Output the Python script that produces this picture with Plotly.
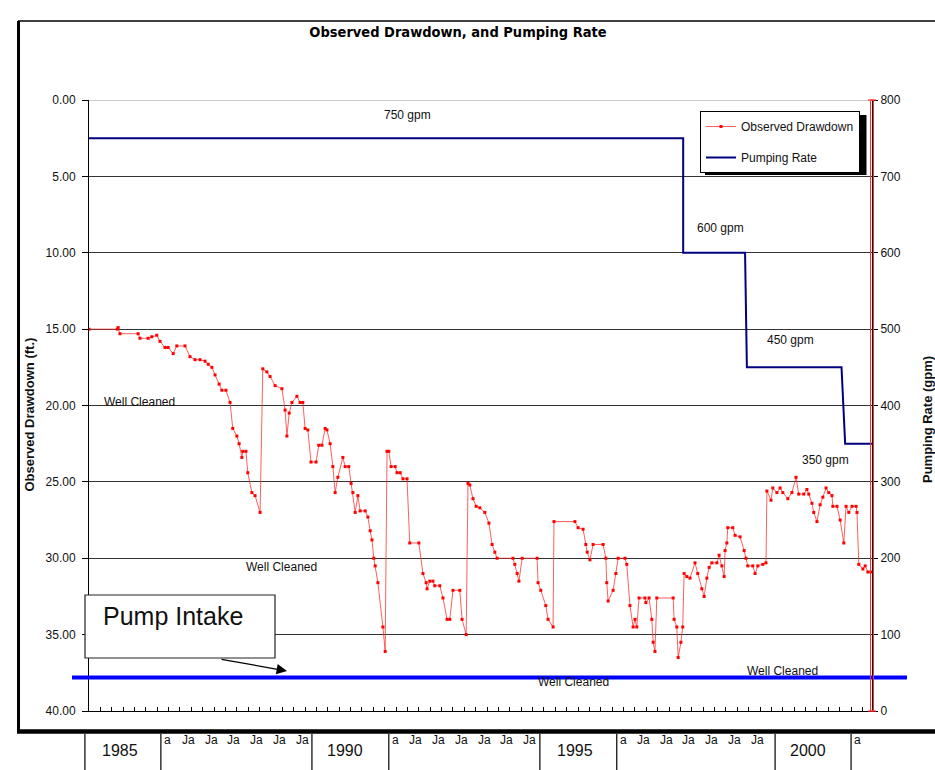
import plotly.graph_objects as go

TITLE = "Observed Drawdown, and Pumping Rate"

# ---- data (decimal years) ----
drawdown_year = [
    1985.00, 1985.62, 1985.64, 1985.68, 1986.08, 1986.12, 1986.30, 1986.38, 1986.49, 1986.56,
    1986.67, 1986.74, 1986.85, 1986.93, 1987.11, 1987.22, 1987.33, 1987.44, 1987.55, 1987.62,
    1987.70, 1987.77, 1987.86, 1987.92, 1988.01, 1988.10, 1988.16, 1988.25, 1988.30, 1988.36,
    1988.38, 1988.45, 1988.49, 1988.58, 1988.65, 1988.76, 1988.82, 1988.91, 1988.98, 1989.09,
    1989.24, 1989.31, 1989.35, 1989.40, 1989.46, 1989.57, 1989.64, 1989.70, 1989.75, 1989.81,
    1989.88, 1989.99, 1990.05, 1990.12, 1990.19, 1990.23, 1990.30, 1990.36, 1990.41, 1990.47,
    1990.58, 1990.63, 1990.71, 1990.76, 1990.80, 1990.85, 1990.91, 1990.96, 1991.07, 1991.13,
    1991.18, 1991.22, 1991.26, 1991.29, 1991.35, 1991.46, 1991.51, 1991.55, 1991.59, 1991.64,
    1991.73, 1991.77, 1991.84, 1991.90, 1991.99, 1992.05, 1992.25, 1992.34, 1992.41, 1992.43,
    1992.49, 1992.56, 1992.60, 1992.71, 1992.78, 1992.87, 1992.93, 1993.00, 1993.15, 1993.20,
    1993.29, 1993.33, 1993.37, 1993.44, 1993.51, 1993.59, 1993.70, 1993.79, 1993.86, 1993.92,
    1993.97, 1994.32, 1994.36, 1994.41, 1994.45, 1994.52, 1994.85, 1994.87, 1994.93, 1995.04,
    1995.09, 1995.20, 1995.22, 1995.68, 1995.75, 1995.86, 1995.92, 1995.95, 1996.01, 1996.08,
    1996.30, 1996.36, 1996.38, 1996.41, 1996.52, 1996.58, 1996.63, 1996.78, 1996.82, 1996.89,
    1996.96, 1997.00, 1997.04, 1997.09, 1997.22, 1997.24, 1997.31, 1997.37, 1997.40, 1997.44,
    1997.48, 1997.84, 1997.86, 1997.92, 1997.95, 1998.01, 1998.05, 1998.08, 1998.14, 1998.21,
    1998.32, 1998.38, 1998.47, 1998.52, 1998.58, 1998.63, 1998.69, 1998.80, 1998.85, 1998.91,
    1998.96, 1998.98, 1999.02, 1999.04, 1999.15, 1999.20, 1999.31, 1999.40, 1999.44, 1999.48,
    1999.59, 1999.64, 1999.70, 1999.81, 1999.88, 1999.90, 1999.99, 2000.03, 2000.12, 2000.19,
    2000.25, 2000.36, 2000.45, 2000.54, 2000.60, 2000.71, 2000.78, 2000.82, 2000.89, 2000.93,
    2001.00, 2001.07, 2001.13, 2001.20, 2001.26, 2001.33, 2001.35, 2001.44, 2001.51, 2001.59,
    2001.64, 2001.70, 2001.77, 2001.86, 2001.88, 2001.92, 2002.01, 2002.06, 2002.12, 2002.19,
]
drawdown_ft = [
    15.0, 15.0, 14.9, 15.3, 15.3, 15.6, 15.6, 15.5, 15.4, 15.8,
    16.2, 16.2, 16.6, 16.1, 16.1, 16.8, 17.0, 17.0, 17.1, 17.3,
    17.5, 18.0, 18.6, 19.0, 19.0, 19.8, 21.5, 22.0, 22.5, 23.4,
    23.0, 23.0, 24.4, 25.7, 25.9, 27.0, 17.6, 17.8, 18.1, 18.7,
    18.9, 20.3, 22.0, 20.5, 19.8, 19.4, 19.8, 19.8, 21.5, 21.6,
    23.7, 23.7, 22.6, 22.6, 21.5, 21.6, 22.5, 24.0, 25.7, 24.7,
    23.4, 24.0, 24.0, 25.1, 25.7, 27.0, 25.9, 26.9, 26.9, 27.3,
    28.2, 28.8, 30.0, 30.5, 31.6, 34.5, 36.1, 23.0, 23.0, 24.0,
    24.0, 24.4, 24.4, 24.8, 24.8, 29.0, 29.0, 31.0, 31.6, 32.0,
    31.5, 31.5, 31.8, 31.8, 32.6, 34.0, 34.0, 32.1, 32.1, 34.0,
    35.0, 25.1, 25.2, 26.1, 26.6, 26.7, 27.0, 27.7, 29.1, 29.6,
    30.0, 30.0, 30.4, 31.0, 31.5, 30.0, 30.0, 31.6, 32.1, 33.1,
    34.0, 34.5, 27.6, 27.6, 28.0, 28.1, 29.1, 29.6, 30.1, 29.1,
    29.1, 30.0, 31.6, 32.8, 32.1, 31.0, 30.0, 30.0, 30.4, 33.1,
    34.5, 34.0, 34.5, 32.6, 32.6, 32.9, 32.6, 34.0, 35.5, 36.1,
    32.6, 32.6, 34.0, 34.5, 36.5, 35.5, 34.5, 31.0, 31.2, 31.3,
    30.3, 31.0, 32.0, 32.5, 31.3, 30.6, 30.3, 30.3, 29.8, 30.5,
    31.2, 29.5, 29.0, 28.0, 28.0, 28.5, 28.6, 29.5, 30.0, 30.5,
    30.5, 31.0, 30.5, 30.4, 30.3, 25.6, 26.2, 25.4, 25.7, 25.4,
    25.7, 26.1, 25.7, 24.7, 25.8, 25.8, 25.5, 25.8, 26.4, 27.0,
    27.6, 26.5, 26.0, 25.4, 25.7, 25.9, 26.6, 26.6, 27.5, 29.0,
    26.6, 27.0, 26.6, 26.6, 27.0, 30.4, 30.7, 30.5, 30.9, 30.9,
]

pump_year = [1985.00, 1998.06, 1998.06, 1999.42, 1999.46, 2001.54, 2001.62, 2002.21]
pump_gpm = [750, 750, 600, 600, 450, 450, 350, 350]

PUMP_INTAKE_FT = 37.8

rate_labels = ["750 gpm", "600 gpm", "450 gpm", "350 gpm"]
rate_label_year = [1992.01, 1998.89, 2000.41, 2001.18]
rate_label_ft = [0.98, 8.38, 15.71, 23.57]

cleaned_label_year = [1986.12, 1989.24, 1995.64, 2000.25]
cleaned_label_ft = [19.77, 30.57, 38.10, 37.38]

drawdown_ticks = [0, 5, 10, 15, 20, 25, 30, 35, 40]
rate_ticks = [0, 100, 200, 300, 400, 500, 600, 700, 800]

year_labels = ["1985", "1990", "1995", "2000"]
year_label_pos = [1985.68, 1990.63, 1995.68, 2000.80]
year_box_edges = [(1984.91, 1986.58), (1989.90, 1991.59), (1994.91, 1996.60), (2000.08, 2001.75)]
ja_years = [1987.0, 1987.5, 1988.0, 1988.5, 1989.0, 1989.5,
            1992.0, 1992.5, 1993.0, 1993.5, 1994.0, 1994.5,
            1997.0, 1997.5, 1998.0, 1998.5, 1999.0, 1999.5]

# ---- layout helpers ----
W, H = 935, 770
ML, MR, MT, MB = 89, 63, 100, 59
X0, X1 = 1985.0, 2002.21
PW, PH = W - ML - MR, H - MT - MB


def xp_year(year):
    return (year - X0) / (X1 - X0)


def xp_px(px):
    return (px - ML) / PW


def yp_px(py):
    return (H - MB - py) / PH


FONT = "Liberation Sans, Arial, sans-serif"

fig = go.Figure()

fig.add_trace(go.Scatter(
    x=drawdown_year, y=drawdown_ft, name="Observed Drawdown",
    mode="lines+markers",
    line=dict(color="rgba(255,40,40,0.75)", width=1),
    marker=dict(symbol="square", size=3, color="#ff0000"),
    legendgroup="a",
))
fig.add_trace(go.Scatter(
    x=pump_year, y=pump_gpm, name="Pumping Rate", yaxis="y2",
    mode="lines",
    line=dict(color="#000080", width=2),
    legendgroup="b",
))


def txt(x, y, text, size=12, xref="paper", yref="paper", xanchor="center", **kw):
    d = dict(x=x, y=y, xref=xref, yref=yref, text=text, showarrow=False,
             xanchor=xanchor, yanchor="middle",
             font=dict(size=size, color="#111", family=FONT))
    d.update(kw)
    return d


annotations = []
for t, x, y in zip(rate_labels, rate_label_year, rate_label_ft):
    annotations.append(txt(x, y, t, xref="x", yref="y"))
for x, y in zip(cleaned_label_year, cleaned_label_ft):
    annotations.append(txt(x, y, "Well Cleaned", xref="x", yref="y"))

# axis titles
annotations.append(txt(xp_px(28.5), yp_px(415), "<b>Observed Drawdown (ft.)</b>", size=13,
                       textangle=-90))
annotations.append(txt(xp_px(927), yp_px(420), "<b>Pumping Rate (gpm)</b>", size=13,
                       textangle=-90))

# pump intake call-out
annotations.append(txt(xp_px(101), yp_px(616), "Pump Intake", size=25, xanchor="left"))
annotations.append(dict(x=xp_px(287), y=yp_px(671), xref="paper", yref="paper",
                        ax=-67, ay=-12, text="",
                        showarrow=True, arrowhead=2, arrowsize=1.6, arrowwidth=1.3,
                        arrowcolor="#000"))

# bottom broken-axis labels
for t, yr in zip(year_labels, year_label_pos):
    annotations.append(txt(xp_year(yr), yp_px(750), t, size=16))
for yr in ja_years:
    annotations.append(txt(xp_year(yr), yp_px(740.5), "Ja", xanchor="left"))
for a, b in year_box_edges:
    annotations.append(txt(xp_year(b) + 0.0015, yp_px(740.5), "a", xanchor="left"))

shapes = []
# outer frame
shapes.append(dict(type="line", xref="paper", yref="paper", x0=xp_px(18), x1=xp_px(945),
                   y0=yp_px(21), y1=yp_px(21), line=dict(color="#000", width=1.5)))
shapes.append(dict(type="line", xref="paper", yref="paper", x0=xp_px(18.5), x1=xp_px(18.5),
                   y0=yp_px(21), y1=yp_px(731), line=dict(color="#000", width=3)))
shapes.append(dict(type="line", xref="paper", yref="paper", x0=xp_px(17), x1=xp_px(945),
                   y0=yp_px(731.5), y1=yp_px(731.5), line=dict(color="#000", width=4.5)))
# lighter top grid line at 0 ft
shapes.append(dict(type="line", xref="paper", yref="y", x0=0, x1=1, y0=0, y1=0,
                   line=dict(color="#999", width=1.2), layer="above"))
# year boxes
for a, b in year_box_edges:
    for e in (a, b):
        shapes.append(dict(type="line", xref="paper", yref="paper", x0=xp_year(e), x1=xp_year(e),
                           y0=yp_px(734), y1=yp_px(775), line=dict(color="#000", width=1.2)))
# pump intake line
shapes.append(dict(type="line", xref="paper", yref="y", x0=xp_px(72), x1=xp_px(907),
                   y0=PUMP_INTAKE_FT, y1=PUMP_INTAKE_FT, line=dict(color="#0000ff", width=4),
                   layer="above"))
# pump intake box
shapes.append(dict(type="rect", xref="paper", yref="paper", x0=xp_px(85), x1=xp_px(275),
                   y0=yp_px(658), y1=yp_px(595), line=dict(color="#222", width=1.2),
                   fillcolor="white", layer="above"))
# red band at right axis
shapes.append(dict(type="rect", xref="paper", yref="paper", x0=xp_px(870.5), x1=xp_px(873.5),
                   y0=0, y1=1, line=dict(color="#ff3030", width=1), layer="above"))
for yy in (0, 1):
    shapes.append(dict(type="line", xref="paper", yref="paper", x0=xp_px(868), x1=xp_px(876),
                       y0=yy, y1=yy, line=dict(color="#ff3030", width=1.2), layer="above"))
# legend shadow
shapes.append(dict(type="rect", xref="paper", yref="paper", x0=xp_px(705), x1=xp_px(866.5),
                   y0=yp_px(175), y1=yp_px(115), line=dict(width=0), fillcolor="#000",
                   layer="above"))

fig.update_layout(
    width=W, height=H,
    margin=dict(l=ML, r=MR, t=MT, b=MB, pad=0),
    paper_bgcolor="white", plot_bgcolor="white",
    font=dict(family=FONT, size=12, color="#111"),
    title=dict(text="<b>" + TITLE + "</b>", x=458 / W, xref="container", xanchor="center",
               y=1 - 32 / H, yref="container", yanchor="middle",
               font=dict(family="DejaVu Sans Condensed, sans-serif",
                         size=14.5, color="#000")),
    xaxis=dict(range=[X0, X1], showgrid=False, zeroline=False, showline=True,
               linecolor="#000", linewidth=1, ticks="inside", ticklen=4, tickcolor="#000",
               tick0=1985.0, dtick=0.25, showticklabels=False),
    yaxis=dict(range=[40, 0], tickvals=drawdown_ticks, tickformat=".2f",
               showgrid=True, gridcolor="#333", gridwidth=1, zeroline=False,
               showline=True, linecolor="#000", linewidth=1,
               ticks="outside", ticklen=6, tickcolor="#000",
               ticklabelstandoff=4,
               tickfont=dict(size=12, color="#111", family=FONT)),
    yaxis2=dict(range=[0, 800], tickvals=rate_ticks, overlaying="y", side="right",
                showgrid=False, zeroline=False, showline=True, linecolor="#000", linewidth=1,
                ticks="outside", ticklen=5, tickcolor="#000",
                tickfont=dict(size=12, color="#111", family=FONT)),
    legend=dict(x=xp_px(700), y=yp_px(111), xanchor="left", yanchor="top",
                bgcolor="white", bordercolor="#000", borderwidth=1,
                font=dict(size=12, color="#111", family=FONT),
                traceorder="grouped", tracegroupgap=12, itemwidth=30),
    showlegend=True,
    annotations=annotations,
    shapes=shapes,
)

fig.write_html("out.html", config={"displayModeBar": False},
               post_script="document.body.style.margin='0';document.body.style.overflow='hidden';")
